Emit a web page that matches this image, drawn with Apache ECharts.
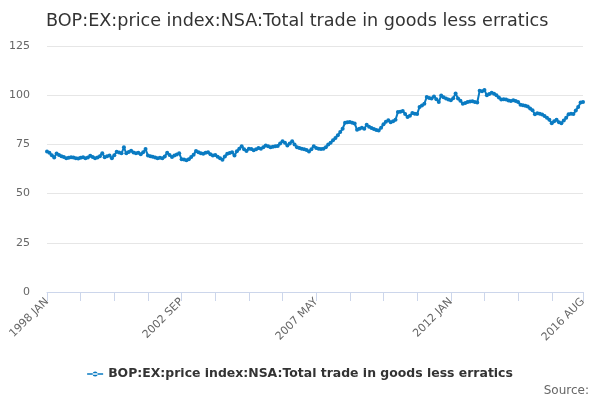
<!DOCTYPE html>
<html>
<head>
<meta charset="utf-8">
<script src="https://cdn.jsdelivr.net/npm/echarts@6/dist/echarts.min.js"></script>
<style>
html,body{margin:0;padding:0;background:#fff;}
#chart{width:600px;height:400px;}
</style>
</head>
<body>
<div id="chart"></div>
<script>
var titleText = 'BOP:EX:price index:NSA:Total trade in goods less erratics';
var seriesName = 'BOP:EX:price index:NSA:Total trade in goods less erratics';
var monthNames = ['JAN','FEB','MAR','APR','MAY','JUN','JUL','AUG','SEP','OCT','NOV','DEC'];
var startYear = 1998;
var yTicks = [0, 25, 50, 75, 100, 125];

var values1998 = [71.4, 70.8, 69.5, 68.4, 70.4, 69.6, 69.0, 68.6, 67.9, 68.2, 68.5, 68.3];
var values1999 = [68.0, 67.8, 68.2, 68.5, 68.0, 68.4, 69.2, 68.6, 68.0, 68.4, 69.0, 70.5];
var values2000 = [68.5, 69.0, 69.3, 67.9, 69.5, 71.3, 70.9, 70.5, 73.5, 70.5, 71.2, 71.8];
var values2001 = [70.9, 70.5, 70.8, 70.0, 71.0, 72.6, 69.3, 69.0, 68.7, 68.4, 68.0, 68.2];
var values2002 = [67.9, 68.8, 70.8, 69.6, 68.6, 69.4, 69.9, 70.5, 67.5, 67.3, 67.0, 67.5];
var values2003 = [68.6, 69.8, 71.6, 71.0, 70.5, 70.3, 70.8, 71.0, 70.0, 69.3, 69.6, 68.7];
var values2004 = [68.0, 67.2, 68.8, 70.3, 70.6, 71.0, 69.3, 71.5, 72.8, 74.0, 72.5, 71.6];
var values2005 = [72.8, 72.6, 72.0, 72.5, 73.2, 72.8, 73.6, 74.5, 74.0, 73.6, 73.8, 74.0];
var values2006 = [74.2, 75.5, 76.6, 75.8, 74.5, 75.5, 76.6, 75.0, 73.6, 73.2, 72.8, 72.5];
var values2007 = [72.2, 71.4, 72.5, 74.0, 73.2, 72.8, 72.6, 72.8, 73.5, 74.9, 75.8, 77.1];
var values2008 = [78.2, 79.6, 81.3, 83.0, 86.0, 86.2, 86.4, 86.0, 85.6, 82.5, 83.0, 83.5];
var values2009 = [83.0, 85.0, 84.0, 83.3, 82.8, 82.3, 82.1, 83.5, 85.2, 86.5, 87.3, 86.3];
var values2010 = [86.8, 87.5, 91.4, 91.6, 92.0, 90.5, 88.9, 89.6, 90.9, 90.6, 90.5, 94.0];
var values2011 = [94.8, 95.7, 99.1, 98.6, 98.3, 99.4, 98.0, 96.6, 99.8, 99.0, 98.3, 97.8];
var values2012 = [97.4, 98.5, 100.9, 98.3, 97.2, 95.7, 96.0, 96.6, 96.8, 96.9, 96.6, 96.3];
var values2013 = [102.2, 102.0, 102.6, 100.0, 100.6, 101.2, 100.8, 100.0, 98.8, 97.8, 98.0, 97.8];
var values2014 = [97.3, 97.1, 97.4, 97.1, 96.5, 95.2, 94.9, 94.6, 94.3, 93.2, 92.3, 90.3];
var values2015 = [90.8, 90.6, 90.2, 89.4, 88.6, 87.5, 85.8, 86.8, 87.5, 86.3, 85.8, 87.2];
var values2016 = [88.5, 90.3, 90.6, 90.4, 92.2, 94.0, 96.3, 96.5];

var values = [].concat(values1998, values1999, values2000, values2001, values2002,
  values2003, values2004, values2005, values2006, values2007, values2008, values2009,
  values2010, values2011, values2012, values2013, values2014, values2015, values2016);

var categories = values.map(function (v, i) {
  return (startYear + Math.floor(i / 12)) + ' ' + monthNames[i % 12];
});
var lastIdx = categories.length - 1;

var chart = echarts.init(document.getElementById('chart'), null, {renderer: 'canvas'});
chart.setOption({
  animation: false,
  backgroundColor: '#ffffff',
  textStyle: {fontFamily: 'DejaVu Sans'},
  title: {
    text: titleText,
    left: 41,
    top: 7,
    textStyle: {fontFamily: 'DejaVu Sans', fontSize: 17.6, fontWeight: 'normal', color: '#333333'}
  },
  legend: {
    bottom: 15,
    left: 'center',
    itemWidth: 16,
    itemHeight: 6,
    itemGap: 8,
    icon: 'path://M0,2.2 L16,2.2 L16,3.8 L0,3.8 Z M5.5,3 A2.5,2.5 0 1,0 10.5,3 A2.5,2.5 0 1,0 5.5,3 Z',
    textStyle: {fontFamily: 'DejaVu Sans', fontSize: 12.45, fontWeight: 'bold', color: '#333333'},
    data: [seriesName]
  },
  graphic: [{
    type: 'text',
    right: 11,
    bottom: 3,
    style: {text: 'Source:', fill: '#666666', font: '12px DejaVu Sans'}
  }],
  grid: {left: 47, right: 17, top: 46, bottom: 108, containLabel: false},
  xAxis: {
    type: 'category',
    data: categories,
    boundaryGap: false,
    axisLine: {lineStyle: {color: '#ccd6eb', width: 1}},
    axisTick: {
      show: true,
      length: 9,
      lineStyle: {color: '#ccd6eb'},
      interval: function (idx) { return idx % 14 === 0 || idx === lastIdx; }
    },
    axisLabel: {
      rotate: 45,
      color: '#666666',
      fontSize: 11,
      fontFamily: 'DejaVu Sans',
      margin: 8,
      interval: function (idx) { return idx % 56 === 0 || idx === lastIdx; }
    },
    splitLine: {show: false}
  },
  yAxis: {
    type: 'value',
    min: yTicks[0],
    max: yTicks[yTicks.length - 1],
    interval: 25,
    axisLine: {show: false},
    axisTick: {show: false},
    axisLabel: {color: '#666666', fontSize: 11, fontFamily: 'DejaVu Sans', margin: 17},
    splitLine: {lineStyle: {color: '#e6e6e6', width: 1}}
  },
  series: [{
    name: seriesName,
    type: 'line',
    data: values,
    color: '#0a7bc2',
    lineStyle: {width: 2, color: '#0a7bc2'},
    symbol: 'circle',
    symbolSize: 4,
    showAllSymbol: true,
    itemStyle: {color: '#0a7bc2'}
  }]
});
</script>
</body>
</html>
